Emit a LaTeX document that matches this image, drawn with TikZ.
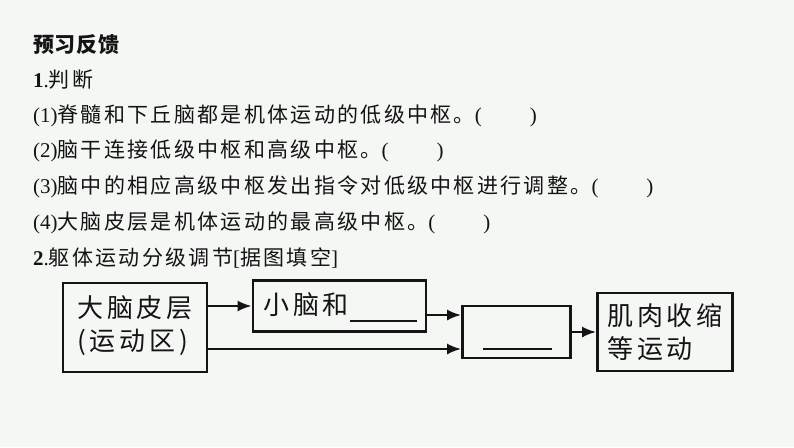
\documentclass[tikz,border=0pt]{standalone}
\usepackage{fontspec}
\setmainfont{Liberation Serif}
\newfontfamily\cjktitle{Noto Sans CJK SC}[LetterSpace=3.5]
\newfontfamily\cjkbody{Noto Sans CJK SC}[LetterSpace=11]
\newfontfamily\cjkbox{Noto Sans CJK SC}[LetterSpace=15]
\usetikzlibrary{arrows.meta}
\definecolor{bg}{RGB}{244,247,244}
\definecolor{ink}{RGB}{20,20,20}
\begin{document}
\begin{tikzpicture}[x=1pt,y=-1pt,
  line/.style={anchor=west,inner sep=0pt,text=ink,font=\fontsize{21}{21}\selectfont},
  box/.style={draw=ink,line width=2.8pt,inner sep=0pt},
  boxtext/.style={anchor=west,inner sep=0pt,text=ink,align=left,font=\fontsize{26}{33}\selectfont\cjkbox},
  arr/.style={draw=ink,line width=2.2pt,-{Latex[length=14pt,width=11pt]}},
  blank/.style={draw=ink,line width=2.2pt}]
\fill[bg] (0,0) rectangle (794,447);
\useasboundingbox (0,0) rectangle (794,447);
% text lines
\node[line,font=\fontsize{21}{21}\selectfont\cjktitle\bfseries] (t0) at (33,45) {预习反馈};
\node[line] (t1) at (33,80) {\textbf{1}.{\cjkbody 判断}};
\node[line] (t2) at (33,116) {(1){\cjkbody 脊髓和下丘脑都是机体运动的低级中枢。}(\hspace{48pt})};
\node[line] (t3) at (33,151) {(2){\cjkbody 脑干连接低级中枢和高级中枢。}(\hspace{48pt})};
\node[line] (t4) at (33,187) {(3){\cjkbody 脑中的相应高级中枢发出指令对低级中枢进行调整。}(\hspace{48pt})};
\node[line] (t5) at (33,223) {(4){\cjkbody 大脑皮层是机体运动的最高级中枢。}(\hspace{48pt})};
\node[line] (t6) at (33,258) {\textbf{2}.{\cjkbody 躯体运动分级调节}[{\cjkbody 据图填空}]};
% boxes
\node[box,minimum width=144pt,minimum height=89pt] (A) at (135,327.5) {};
\node[box,minimum width=173pt,minimum height=51pt] (B) at (339.5,306) {};
\node[box,minimum width=108pt,minimum height=52pt] (C) at (516.5,332) {};
\node[box,minimum width=135pt,minimum height=78pt] (D) at (665,332) {};
\node[boxtext] (Atext) at (77,326) {大脑皮层\\(运动区)};
\node[boxtext] (Btext) at (263,305) {小脑和};
\node[boxtext] (Dtext) at (607,332.5) {肌肉收缩\\等运动};
% blanks
\coordinate (u1) at (350,321);
\coordinate (u2) at (417,321);
\coordinate (u3) at (483,349);
\coordinate (u4) at (552,349);
\draw[blank] (u1) -- (u2);
\draw[blank] (u3) -- (u4);
% connectors
\coordinate (y1) at (0,315);
\coordinate (y2) at (0,349);
\draw[arr] (A.east |- B.west) -- (B.west);
\draw[arr] (B.east |- y1) -- (C.west |- y1);
\draw[arr] (A.east |- y2) -- (C.west |- y2);
\draw[arr] (C.east) -- (D.west);
\end{tikzpicture}
\end{document}
